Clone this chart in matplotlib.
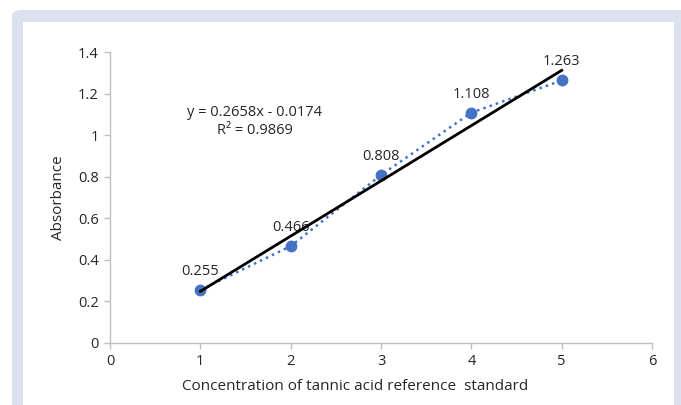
import numpy as np
from matplotlib import pyplot as plt
from matplotlib.patches import FancyBboxPatch, Rectangle


# calibration data
concentration = [1, 2, 3, 4, 5]
absorbance = [0.255, 0.466, 0.808, 1.108, 1.263]
point_labels = ['0.255', '0.466', '0.808', '1.108', '1.263']

x_ticks = [0, 1, 2, 3, 4, 5, 6]
y_ticks = [0, 0.2, 0.4, 0.6, 0.8, 1.0, 1.2, 1.4]
y_tick_labels = ['0', '0.2', '0.4', '0.6', '0.8', '1', '1.2', '1.4']


def plot_calibration():
    plt.rcParams['font.family'] = ['Open Sans', 'DejaVu Sans']
    W, H = 681, 405
    fig = plt.figure(figsize=(W / 100, H / 100), dpi=100)

    # lavender frame with white panel (kept behind the axes)
    fig.patches.append(FancyBboxPatch((12 / W, -0.1), 1.0, 1.1 - 10 / H,
                                      boxstyle='round,pad=0,rounding_size=0.015',
                                      transform=fig.transFigure, facecolor='#dde1ef',
                                      edgecolor='none', zorder=-2))
    fig.patches.append(Rectangle((23 / W, -0.1), (674 - 23) / W, 1.1 - 22 / H,
                                 transform=fig.transFigure, facecolor='white',
                                 edgecolor='none', zorder=-1))

    ax = fig.add_axes([110 / W, 62 / H, (652 - 110) / W, (343 - 52) / H])
    ax.set_facecolor('none')

    # measured points joined with a dotted line
    ax.plot(concentration, absorbance, ':', color='#4472c4', linewidth=1.8,
            marker='o', markersize=7.5, markerfacecolor='#4472c4',
            markeredgecolor='#4472c4', zorder=3, clip_on=False)

    # linear fit
    slope, intercept = np.polyfit(concentration, absorbance, 1)
    fit_x = np.array([concentration[0], concentration[-1]])
    ax.plot(fit_x, slope * fit_x + intercept, '-', color='black', linewidth=2, zorder=4)

    r2 = np.corrcoef(concentration, absorbance)[0, 1] ** 2
    ax.text(1.6, 1.065, f'y = {slope:.4f}x - {abs(intercept):.4f}\nR\u00b2 = {r2:.4f}',
            ha='center', va='center', fontsize=10.5, color='#262626', linespacing=1.3)

    for x, y, lab in zip(concentration, absorbance, point_labels):
        ax.annotate(lab, (x, y), xytext=(0, 8), textcoords='offset points',
                    ha='center', va='bottom', fontsize=10.5, color='#262626')

    ax.set_xlim(0, 6)
    ax.set_ylim(0, 1.4)
    ax.set_xticks(x_ticks)
    ax.set_yticks(y_ticks)
    ax.set_yticklabels(y_tick_labels)

    for side in ['top', 'right']:
        ax.spines[side].set_visible(False)
    for side in ['left', 'bottom']:
        ax.spines[side].set_color('#bfbfbf')
        ax.spines[side].set_linewidth(1)
    ax.tick_params(colors='#bfbfbf', labelcolor='#262626', labelsize=10.5,
                   length=4, width=1, pad=4)

    ax.set_xlabel('Concentration of tannic acid reference  standard',
                  fontsize=11, color='#262626')
    ax.xaxis.set_label_coords((355 - 110) / 542, -0.125)
    ax.set_ylabel('Absorbance', fontsize=11, color='#262626', labelpad=9)

    plt.savefig('out.png', dpi=100)
    plt.close()


def main():
    plot_calibration()


if __name__ == '__main__':
    main()
